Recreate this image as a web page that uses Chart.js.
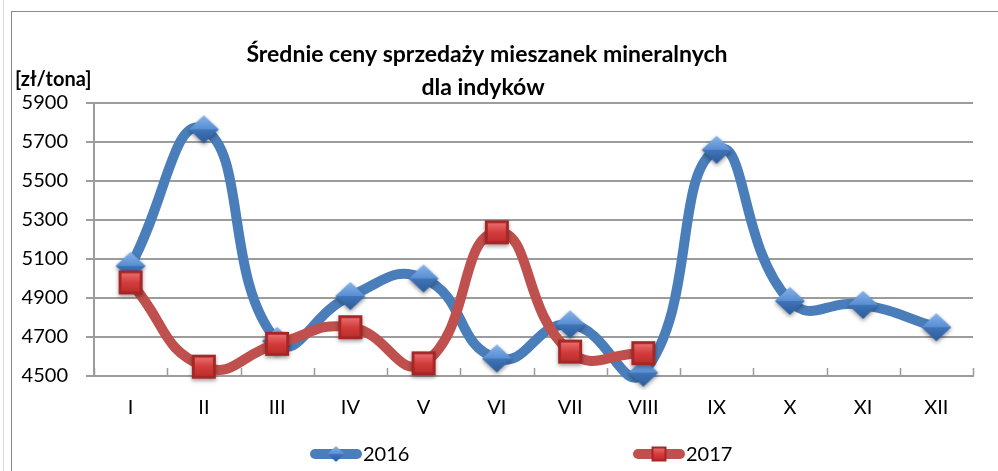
<!DOCTYPE html>
<html lang="pl">
<head>
<meta charset="utf-8">
<title>Średnie ceny sprzedaży mieszanek mineralnych dla indyków</title>
<script src="https://cdn.jsdelivr.net/npm/chart.js@4.4.1/dist/chart.umd.min.js"></script>
<style>
  html, body { margin: 0; padding: 0; background: #fff; }
  #wrap { position: relative; width: 998px; height: 471px; }
</style>
</head>
<body>
<div id="wrap"><canvas id="priceChart" width="998" height="471"></canvas></div>
<script>
// month labels and prices [zł/tona]
const months = ["I", "II", "III", "IV", "V", "VI", "VII", "VIII", "IX", "X", "XI", "XII"];
const prices2016 = [5065, 5765, 4680, 4910, 5000, 4590, 4765, 4517, 5660, 4885, 4865, 4750];
const prices2017 = [4980, 4548, 4665, 4750, 4565, 5237, 4625, 4617, null, null, null, null];
const seriesNames = ["2016", "2017"];
const yMin = 4500;
const yMax = 5900;
const yStep = 200;

const titleLines = ["Średnie ceny sprzedaży mieszanek mineralnych", "dla indyków"];
const unitLabel = "[zł/tona]";

const colors = {
  blue: "#4a7ebb",
  red: "#c0504d",
  grid: "#9c9c9c",
  frame: "#8a8a8a",
  text: "#000000",
};
const FONT = "Lato, 'Open Sans', sans-serif";

// Excel-like bevelled markers, drawn once into small canvases
function makeDiamond(w, h, shadow) {
  const pad = shadow ? 6 : 1;
  const c = document.createElement("canvas");
  c.width = w + pad * 2;
  c.height = h + pad * 2;
  const g = c.getContext("2d");
  const cx = c.width / 2, cy = c.height / 2;
  if (shadow) {
    g.shadowColor = "rgba(0,0,0,0.4)";
    g.shadowBlur = 4;
    g.shadowOffsetY = 2;
  }
  const grad = g.createLinearGradient(0, cy - h / 2, 0, cy + h / 2);
  grad.addColorStop(0, "#86b4ec");
  grad.addColorStop(0.48, "#5a8fd2");
  grad.addColorStop(0.52, "#3f74b8");
  grad.addColorStop(1, "#2d5b98");
  g.fillStyle = grad;
  g.beginPath();
  g.moveTo(cx, cy - h / 2);
  g.lineTo(cx + w / 2, cy);
  g.lineTo(cx, cy + h / 2);
  g.lineTo(cx - w / 2, cy);
  g.closePath();
  g.fill();
  return c;
}

function makeSquare(s, shadow) {
  const pad = shadow ? 6 : 1;
  const c = document.createElement("canvas");
  c.width = s + pad * 2;
  c.height = s + pad * 2;
  const g = c.getContext("2d");
  const x0 = pad, y0 = pad;
  if (shadow) {
    g.shadowColor = "rgba(0,0,0,0.4)";
    g.shadowBlur = 4;
    g.shadowOffsetY = 2;
  }
  g.fillStyle = "#a52626";
  g.fillRect(x0, y0, s, s);
  g.shadowColor = "transparent";
  const grad = g.createLinearGradient(0, y0, 0, y0 + s);
  grad.addColorStop(0, "#ef7b7b");
  grad.addColorStop(0.5, "#d43c3c");
  grad.addColorStop(1, "#b62a2a");
  g.fillStyle = grad;
  const b = Math.max(2, s * 0.12);
  g.fillRect(x0 + b, y0 + b, s - 2 * b, s - 2 * b);
  return c;
}

const diamondMark = makeDiamond(30, 28, true);
const squareMark = makeSquare(24, true);
const diamondSmall = makeDiamond(17, 16, false);
const squareSmall = makeSquare(15, false);

const excelLook = {
  id: "excelLook",
  beforeDraw(chart) {
    const ctx = chart.ctx;
    ctx.save();
    ctx.fillStyle = "#fff";
    ctx.fillRect(0, 0, chart.width, chart.height);
    ctx.strokeStyle = "#d8d8d8";
    ctx.lineWidth = 1;
    ctx.beginPath();
    ctx.moveTo(3.5, 0);
    ctx.lineTo(3.5, chart.height);
    ctx.stroke();
    ctx.strokeStyle = colors.frame;
    ctx.strokeRect(11.5, 11.5, 990, 470);
    ctx.restore();
  },
  beforeDatasetsDraw(chart) {
    // short tick marks between categories, pointing up into the plot
    const ctx = chart.ctx;
    const x = chart.scales.x;
    const bottom = chart.chartArea.bottom;
    ctx.save();
    ctx.strokeStyle = colors.grid;
    ctx.lineWidth = 1.5;
    ctx.beginPath();
    for (let i = 0; i <= months.length; i++) {
      const px = Math.round(x.getPixelForValue(i - 0.5)) + 0.5;
      ctx.moveTo(px, bottom);
      ctx.lineTo(px, bottom - 8);
    }
    ctx.stroke();
    ctx.restore();
  },
  afterDraw(chart) {
    const ctx = chart.ctx;
    ctx.save();
    ctx.fillStyle = colors.text;
    ctx.textBaseline = "alphabetic";

    // title
    ctx.font = "bold 23px " + FONT;
    ctx.textAlign = "center";
    ctx.fillText(titleLines[0], 487, 62);
    ctx.fillText(titleLines[1], 483, 95);

    // unit label
    ctx.font = "bold 20px " + FONT;
    ctx.textAlign = "left";
    ctx.fillText(unitLabel, 15, 86);

    // legend: line segment with marker, then series name
    const items = [
      { x: 310, mark: diamondSmall },
      { x: 633, mark: squareSmall },
    ];
    const ly = 454;
    ctx.font = "20px " + FONT;
    chart.data.datasets.forEach((ds, i) => {
      const it = items[i];
      ctx.strokeStyle = ds.borderColor;
      ctx.lineWidth = 10;
      ctx.lineCap = "round";
      ctx.beginPath();
      ctx.moveTo(it.x + 5, ly);
      ctx.lineTo(it.x + 47, ly);
      ctx.stroke();
      ctx.drawImage(it.mark, it.x + 26 - it.mark.width / 2, ly - it.mark.height / 2);
      ctx.fillStyle = colors.text;
      ctx.textBaseline = "middle";
      ctx.fillText(ds.label, it.x + 53, ly + 1);
    });
    ctx.restore();
  },
};

const ctx = document.getElementById("priceChart").getContext("2d");
new Chart(ctx, {
  type: "line",
  data: {
    labels: months,
    datasets: [
      {
        label: seriesNames[0],
        data: prices2016,
        borderColor: colors.blue,
        backgroundColor: colors.blue,
        borderWidth: 10,
        tension: 0.5,
        capBezierPoints: false,
        pointStyle: diamondMark,
        pointRadius: 15,
        clip: { left: 5, top: 5, right: 5, bottom: 14 },
        order: 1,
      },
      {
        label: seriesNames[1],
        data: prices2017,
        borderColor: colors.red,
        backgroundColor: colors.red,
        borderWidth: 10,
        tension: 0.5,
        capBezierPoints: false,
        pointStyle: squareMark,
        pointRadius: 14,
        clip: { left: 5, top: 5, right: 5, bottom: 14 },
        order: 0,
      },
    ],
  },
  options: {
    responsive: false,
    animation: false,
    layout: {
      padding: { left: 12, top: 103, right: 8, bottom: 31 },
    },
    plugins: {
      legend: { display: false },
      title: { display: false },
      tooltip: { enabled: false },
    },
    scales: {
      x: {
        offset: true,
        grid: { display: false, drawTicks: false },
        border: { display: true, color: colors.grid, width: 2 },
        ticks: {
          color: colors.text,
          padding: 20,
          font: { family: FONT, size: 20 },
        },
      },
      y: {
        min: yMin,
        max: yMax,
        afterFit(scale) {
          scale.width = 82;
        },
        grid: {
          color: colors.grid,
          lineWidth: 2,
          tickLength: 8,
        },
        border: { display: true, color: colors.grid, width: 2 },
        ticks: {
          stepSize: yStep,
          color: colors.text,
          padding: 18,
          font: { family: FONT, size: 20 },
          callback: (v) => String(v),
        },
      },
    },
  },
  plugins: [excelLook],
});
</script>
</body>
</html>
